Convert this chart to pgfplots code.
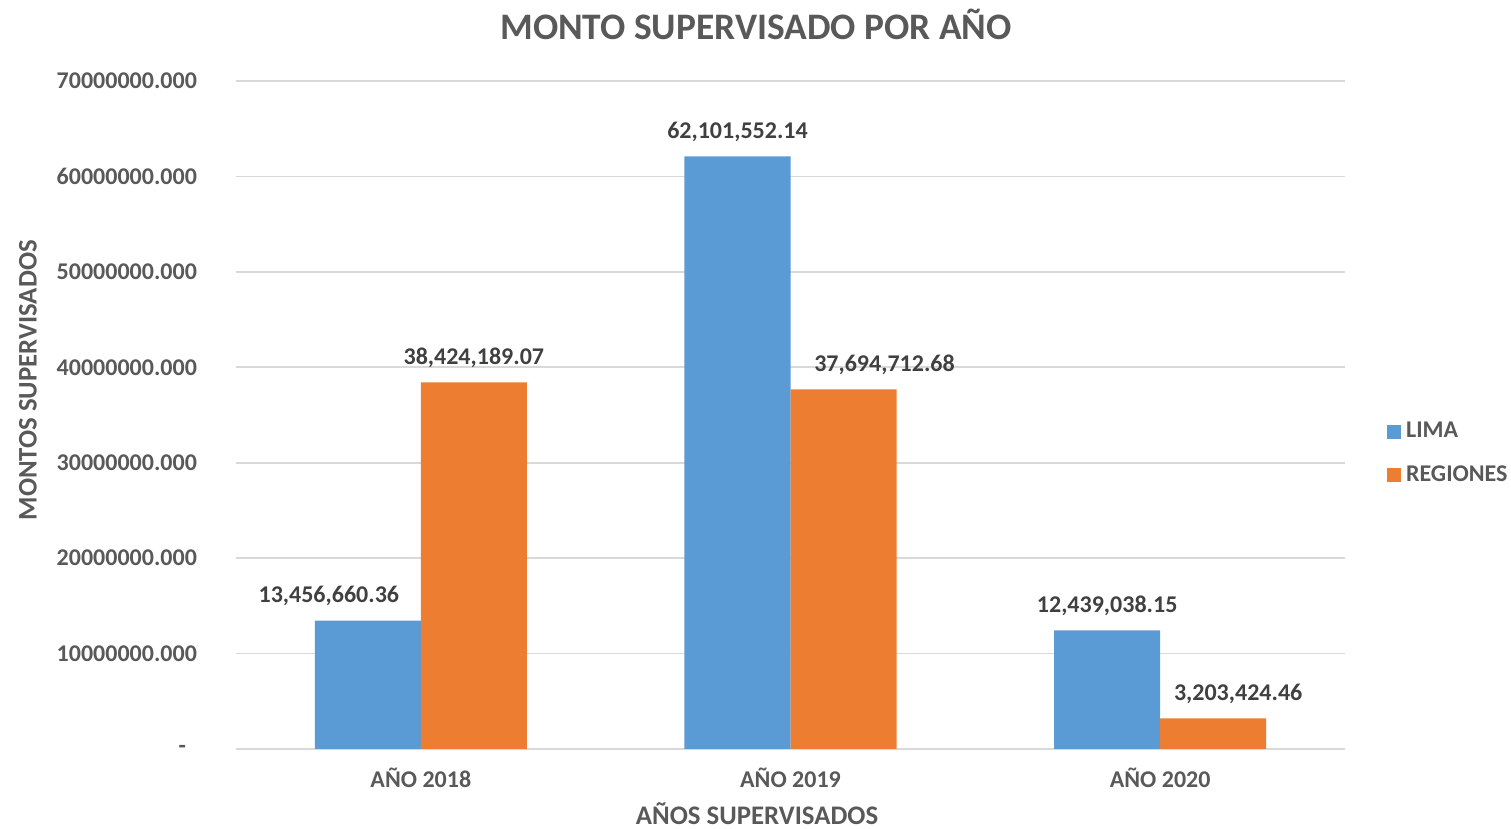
\documentclass[border=0pt]{standalone}
\usepackage{pgfplots}
\pgfplotsset{compat=1.18}
\usepackage{pgfplotstable}
\usepackage{fontspec}
\setmainfont{Carlito}
\definecolor{lima}{HTML}{5B9BD5}
\definecolor{reg}{HTML}{ED7D31}
\definecolor{txt}{HTML}{595959}
\definecolor{lbl}{HTML}{404040}
\definecolor{gridc}{HTML}{D9D9D9}

\pgfplotstableread{
x y label dx
0 13456660.36 13,456,660.36 -19.5
1 62101552.14 62,101,552.14 0
2 12439038.15 12,439,038.15 0
}\limadata
\pgfplotstableread{
x y label dx
0 38424189.07 38,424,189.07 0
1 37694712.68 37,694,712.68 20.5
2 3203424.46 3,203,424.46 12.5
}\regdata

\begin{document}
\begin{tikzpicture}
\begin{axis}[
  scale only axis,
  width=554.5pt, height=334pt,
  xmin=-0.5, xmax=2.5, ymin=0, ymax=70000000,
  ybar=0pt, bar width=53pt,
  scaled y ticks=false,
  xtick={0,1,2},
  xticklabels={AÑO 2018, AÑO 2019, AÑO 2020},
  ytick={0,10000000,20000000,30000000,40000000,50000000,60000000,70000000},
  yticklabels={-\hspace*{5.5pt},10000000.000,20000000.000,30000000.000,40000000.000,50000000.000,60000000.000,70000000.000},
  major tick length=0pt,
  axis x line*=bottom,
  axis y line*=left,
  y axis line style={draw=none},
  x axis line style={draw=gridc, line width=0.8pt},
  ymajorgrids,
  grid style={draw=gridc, line width=0.8pt},
  tick label style={font=\bfseries\fontsize{12}{14}\selectfont, text=txt},
  yticklabel style={xshift=-16pt},
  xticklabel style={yshift=-6pt},
  title={MONTO SUPERVISADO POR AÑO},
  title style={at={(axis description cs:0.4689,1.066)}, anchor=center, font=\bfseries\fontsize{18.7}{22}\selectfont, text=txt},
  xlabel={AÑOS SUPERVISADOS},
  xlabel style={at={(axis description cs:0.4698,-0.0973)}, anchor=center, font=\bfseries\fontsize{13.4}{16}\selectfont, text=txt},
  ylabel={MONTOS SUPERVISADOS},
  ylabel style={at={(axis description cs:-0.1876,0.552)}, anchor=center, font=\bfseries\fontsize{13.4}{16}\selectfont, text=txt},
  legend style={at={(1.0376,0.4425)}, anchor=west, draw=none, fill=none, inner sep=0pt,
    font=\bfseries\fontsize{12}{14}\selectfont, text=txt, row sep=10.5pt,
    nodes={inner sep=1pt, text=txt},
    /tikz/every odd column/.append style={column sep=1.5pt}},
  legend cell align=left,
  legend image code/.code={\fill[#1, draw=none] (0pt,-3.5pt) rectangle (7pt,3.5pt);},
  nodes near coords,
  point meta=explicit symbolic,
  visualization depends on={\thisrow{dx} \as \dx},
  nodes near coords style={font=\bfseries\fontsize{12}{14}\selectfont, text=lbl, inner sep=0pt, yshift=7pt, xshift=\dx pt},
  clip=false,
]
\addplot[fill=lima, draw=none] table[x=x, y=y, meta=label] {\limadata};
\addplot[fill=reg, draw=none] table[x=x, y=y, meta=label] {\regdata};
\legend{LIMA, REGIONES}
\coordinate (o) at (rel axis cs:0,0);
\end{axis}
\pgfresetboundingbox
\path (o) ++(-118pt,-40pt) rectangle ++(755.5pt,414.5pt);
\end{tikzpicture}
\end{document}
